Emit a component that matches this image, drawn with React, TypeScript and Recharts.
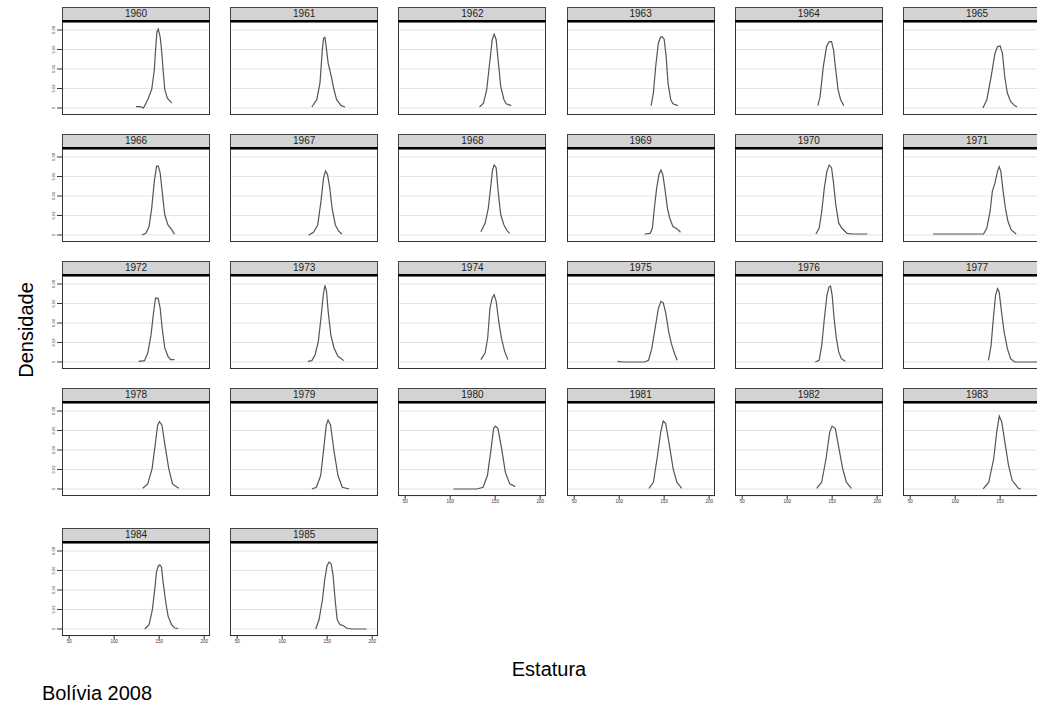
import { LineChart, Line, XAxis, YAxis, CartesianGrid } from "recharts";

const years = [1960, 1961, 1962, 1963, 1964, 1965, 1966, 1967, 1968, 1969, 1970, 1971, 1972,
  1973, 1974, 1975, 1976, 1977, 1978, 1979, 1980, 1981, 1982, 1983, 1984, 1985];

const xTicks = [50, 100, 150, 200];
const yTicks = [0, 0.02, 0.04, 0.06, 0.08];

// [estatura, densidade]
const d1960 = [[124.3, 0.0014], [129, 0.0014], [132.6, 0], [137.3, 0.0085], [141.7, 0.019], [144.6, 0.039], [146, 0.06], [147.5, 0.078], [149, 0.081], [151.1, 0.073], [152.6, 0.06], [154.4, 0.039], [156.2, 0.019], [159.1, 0.01], [164.1, 0.005]];
const d1961 = [[133, 0.001], [138.4, 0.0085], [142, 0.0255], [144.6, 0.0596], [146, 0.0715], [147.5, 0.0725], [148.9, 0.063], [151.1, 0.046], [154.7, 0.032], [157.6, 0.0187], [160.5, 0.0085], [165.6, 0.0024], [169.9, 0.001]];
const d1962 = [[132.6, 0.001], [137, 0.005], [140.6, 0.0187], [144.2, 0.049], [146.7, 0.07], [148.9, 0.0756], [151.1, 0.07], [153.3, 0.049], [156.2, 0.022], [159.8, 0.0085], [162.3, 0.0044], [167.8, 0.0024]];
const d1963 = [[135.5, 0.0024], [138, 0.0153], [140.6, 0.0426], [143.5, 0.0664], [146, 0.0725], [147.8, 0.0732], [150, 0.0705], [152.2, 0.0528], [154.3, 0.0255], [157.3, 0.0085], [159.8, 0.0044], [165.2, 0.0024]];
const d1964 = [[134.1, 0.0024], [136.6, 0.0119], [140.2, 0.0426], [143.8, 0.063], [146.7, 0.068], [149.3, 0.068], [151.5, 0.0596], [154, 0.039], [156.5, 0.0187], [159.4, 0.0085], [163, 0.0024]];
const d1965 = [[130.8, 0], [135.2, 0.0085], [139.9, 0.032], [144.2, 0.056], [147.1, 0.063], [150, 0.0637], [152.5, 0.056], [155.1, 0.032], [158, 0.0153], [161.6, 0.0068], [166, 0.0024], [168.8, 0.001]];
const d1966 = [[130.8, 0], [135.2, 0.0017], [138.8, 0.0086], [141.7, 0.0276], [144.6, 0.055], [147.1, 0.0707], [149, 0.0707], [151.1, 0.0638], [153.3, 0.0448], [156.2, 0.0207], [159.8, 0.0103], [164.1, 0.0052], [167, 0.0007]];
const d1967 = [[129.4, 0], [134.8, 0.0028], [139.5, 0.0103], [143.1, 0.0345], [146, 0.0586], [148.2, 0.0655], [150.4, 0.062], [152.9, 0.0483], [155.4, 0.0276], [159.1, 0.0103], [162.7, 0.0041], [166.3, 0.001]];
const d1968 = [[134.1, 0.0034], [138.8, 0.012], [142.4, 0.0276], [145.3, 0.0517], [147.1, 0.067], [148.9, 0.0717], [151.1, 0.069], [153.3, 0.0448], [156.2, 0.0207], [159.8, 0.0103], [163.4, 0.0041], [166.3, 0.0017]];
const d1969 = [[128.3, 0.001], [134.4, 0.0017], [136.9, 0.0069], [139.1, 0.0276], [141.7, 0.0483], [144.2, 0.062], [146.4, 0.0666], [148.5, 0.062], [150.7, 0.0483], [153.6, 0.0276], [156.2, 0.0172], [159.8, 0.0086], [164.5, 0.0062], [168.1, 0.0028]];
const d1970 = [[131.9, 0.001], [135.5, 0.0069], [138.4, 0.0241], [141.3, 0.0483], [144.2, 0.0655], [146.7, 0.0717], [149.3, 0.069], [151.5, 0.0534], [154, 0.031], [157.3, 0.0121], [160.9, 0.0069], [166.7, 0.0017], [172.8, 0.001], [189.1, 0.001]];
const d1971 = [[75.4, 0.001], [131.5, 0.001], [135.1, 0.0069], [138.8, 0.0241], [141.3, 0.0448], [144.2, 0.0534], [147.1, 0.0655], [148.9, 0.07], [150.7, 0.0655], [153.3, 0.0448], [155.8, 0.0276], [158.7, 0.0138], [162.3, 0.0052], [167.8, 0.001]];
const d1972 = [[127.2, 0.0007], [133.7, 0.0014], [137.3, 0.0092], [141, 0.028], [143.9, 0.052], [146, 0.0656], [148.9, 0.065], [151.1, 0.0554], [153.3, 0.0349], [156.2, 0.0144], [159.8, 0.0058], [162.7, 0.0024], [167, 0.0024]];
const d1973 = [[128.6, 0.0007], [133, 0.0014], [136.6, 0.0075], [140.2, 0.0212], [143.1, 0.0451], [145.7, 0.069], [147.5, 0.0786], [149.3, 0.0725], [151.1, 0.052], [154, 0.028], [157.6, 0.0144], [162, 0.0058], [168.5, 0.0014]];
const d1974 = [[134.1, 0.0024], [138.8, 0.0092], [141.7, 0.0246], [144.2, 0.0554], [146.7, 0.0656], [148.9, 0.069], [151.1, 0.0622], [154, 0.0417], [156.9, 0.0246], [160.5, 0.0109], [164.1, 0.0024]];
const d1975 = [[98.2, 0.0007], [103.6, 0], [114.5, 0], [128.3, 0], [132.6, 0.0017], [136.2, 0.0137], [139.9, 0.0342], [143.5, 0.0547], [146.4, 0.0622], [148.9, 0.0609], [151.5, 0.0513], [155.1, 0.0308], [158, 0.0188], [161.6, 0.0085], [164.5, 0.0017]];
const d1976 = [[131.2, 0], [135.5, 0.0017], [138.4, 0.0171], [141.3, 0.0444], [144.2, 0.0684], [146.4, 0.0769], [148.2, 0.078], [150, 0.0684], [152.2, 0.0444], [154.7, 0.0239], [157.3, 0.0103], [160.2, 0.0034], [164.5, 0.0007]];
const d1977 = [[137, 0.0017], [139.9, 0.0171], [142.4, 0.0444], [144.9, 0.0684], [147.1, 0.0752], [148.9, 0.0718], [151.5, 0.0513], [154.4, 0.0308], [158, 0.0137], [161.6, 0.0034], [166, 0], [195, 0]];
const d1978 = [[131.8, 0.0007], [137.3, 0.0052], [142.1, 0.0207], [145.5, 0.0448], [148.3, 0.0655], [150.3, 0.069], [153.1, 0.0655], [156.5, 0.0448], [160.7, 0.0207], [164.8, 0.0052], [171.7, 0.0007]];
const d1979 = [[133.2, 0], [138, 0.0017], [142.8, 0.0138], [146.2, 0.0414], [149, 0.0655], [151, 0.0707], [153.8, 0.0655], [157.2, 0.0414], [162, 0.0138], [166.8, 0.0017], [174.4, 0]];
const d1980 = [[103.6, 0], [129.7, 0], [136.6, 0.0017], [141.4, 0.0138], [145.5, 0.0414], [148.3, 0.062], [150.3, 0.0645], [153.1, 0.062], [157.2, 0.0414], [161.3, 0.0172], [166.2, 0.0052], [172.3, 0.0024]];
const d1981 = [[133.2, 0.0007], [138, 0.0069], [142.1, 0.031], [146.2, 0.0586], [149, 0.0697], [151.7, 0.0672], [155.2, 0.0483], [160, 0.0207], [164.1, 0.0069], [169.6, 0.0007]];
const d1982 = [[132.8, 0.0007], [138.3, 0.0069], [143.2, 0.031], [147.3, 0.0586], [150, 0.0645], [153.5, 0.062], [157.6, 0.0414], [161.7, 0.0207], [165.8, 0.0069], [171.3, 0.0007]];
const d1983 = [[131.1, 0], [137.3, 0.0069], [142.8, 0.031], [146.2, 0.0586], [149, 0.0748], [151.7, 0.069], [155.2, 0.0483], [159.3, 0.0241], [163.4, 0.0086], [170.3, 0.0007], [173, 0]];
const d1984 = [[134, 0], [138.8, 0.0045], [142.5, 0.0201], [145.1, 0.0409], [147, 0.0582], [148.8, 0.0644], [150.7, 0.0658], [152.6, 0.0634], [154.4, 0.0478], [157.4, 0.027], [159.9, 0.0132], [163.7, 0.0045], [167.4, 0.001], [171.1, 0.0007]];
const d1985 = [[137.3, 0], [141, 0.0097], [144.8, 0.0305], [147.4, 0.0513], [149.9, 0.0651], [152.1, 0.0686], [154.4, 0.0669], [156.6, 0.0547], [158.8, 0.0305], [161.1, 0.0097], [164.1, 0.0045], [167.7, 0.0035], [171.5, 0.001], [177.1, 0], [193.8, 0]];

const curves = [d1960, d1961, d1962, d1963, d1964, d1965, d1966, d1967, d1968, d1969, d1970, d1971, d1972,
  d1973, d1974, d1975, d1976, d1977, d1978, d1979, d1980, d1981, d1982, d1983, d1984, d1985];

const rowTop = [7, 134, 261, 388, 528];
const PW = 148;
const PH = 93;
const font = "'Liberation Sans', Arial, sans-serif";

const YTick = ({ x, y, payload }: any) => (
  <text x={x} y={y} transform={`rotate(-90 ${x} ${y})`} textAnchor="middle" fontSize={4} fill="#333" fontFamily={font}>
    {payload.value}
  </text>
);

function Panel({ i }: { i: number }) {
  const col = i % 6;
  const row = Math.floor(i / 6);
  const left = 62 + col * 168.2;
  const top = rowTop[row];
  const showY = col === 0;
  const showX = i + 6 >= years.length;
  const yw = showY ? 20 : 0;
  const xh = showX ? 14 : 0;
  const data = curves[i].map(([h, d]) => ({ h, d }));

  return (
    <div style={{ position: "absolute", left, top, width: PW, height: 108 + xh }}>
      <div
        style={{
          position: "absolute", left: 0, top: 0, width: PW, height: 13, boxSizing: "border-box",
          background: "#d3d3d3", border: "1px solid #444", borderBottom: "none",
          fontFamily: font, fontSize: 10, lineHeight: "12px", textAlign: "center", color: "#222",
        }}
      >
        {years[i]}
      </div>
      <div style={{ position: "absolute", left: 0, top: 13, width: PW, height: 2.5, background: "#000" }} />
      <div style={{ position: "absolute", left: -yw, top: 15 }}>
        <LineChart width={PW + yw} height={PH + xh} data={data} margin={{ top: 0, right: 0, bottom: 0, left: 0 }}>
          <CartesianGrid vertical={false} stroke="#e4e4e4" strokeWidth={1.2} />
          <XAxis
            type="number" dataKey="h" domain={[42, 206.5]} ticks={xTicks} interval={0} hide={!showX} height={xh}
            axisLine={false} tickSize={3} tickLine={{ stroke: "#333" }} tickMargin={1}
            tick={{ fontSize: 4.5, fill: "#333", fontFamily: font }}
          />
          <YAxis
            type="number" domain={[-0.0072, 0.0882]} ticks={yTicks} interval={0} hide={!showY} width={yw}
            axisLine={false} tickSize={5} tickLine={{ stroke: "#333" }} tickMargin={2} tick={<YTick />}
          />
          <Line type="linear" dataKey="d" stroke="#555" strokeWidth={1.2} dot={false} isAnimationActive={false} />
        </LineChart>
      </div>
      <div
        style={{
          position: "absolute", left: 0, top: 15, width: PW, height: PH, boxSizing: "border-box",
          border: "1.5px solid #333", borderTop: "none", pointerEvents: "none",
        }}
      />
    </div>
  );
}

export default function App() {
  return (
    <div style={{ position: "fixed", left: 0, top: 0, width: 1037, height: 710, overflow: "hidden", background: "#fff" }}>
      {years.map((y, i) => (
        <Panel key={y} i={i} />
      ))}
      <div
        style={{
          position: "absolute", left: 26, top: 330, transform: "translate(-50%, -50%) rotate(-90deg)",
          fontFamily: font, fontSize: 20, color: "#000", whiteSpace: "nowrap",
        }}
      >
        Densidade
      </div>
      <div
        style={{
          position: "absolute", left: 549, top: 669, transform: "translate(-50%, -50%)",
          fontFamily: font, fontSize: 20, color: "#000", whiteSpace: "nowrap",
        }}
      >
        Estatura
      </div>
      <div style={{ position: "absolute", left: 42, top: 682, fontFamily: font, fontSize: 20, color: "#000" }}>
        Bolívia 2008
      </div>
    </div>
  );
}
